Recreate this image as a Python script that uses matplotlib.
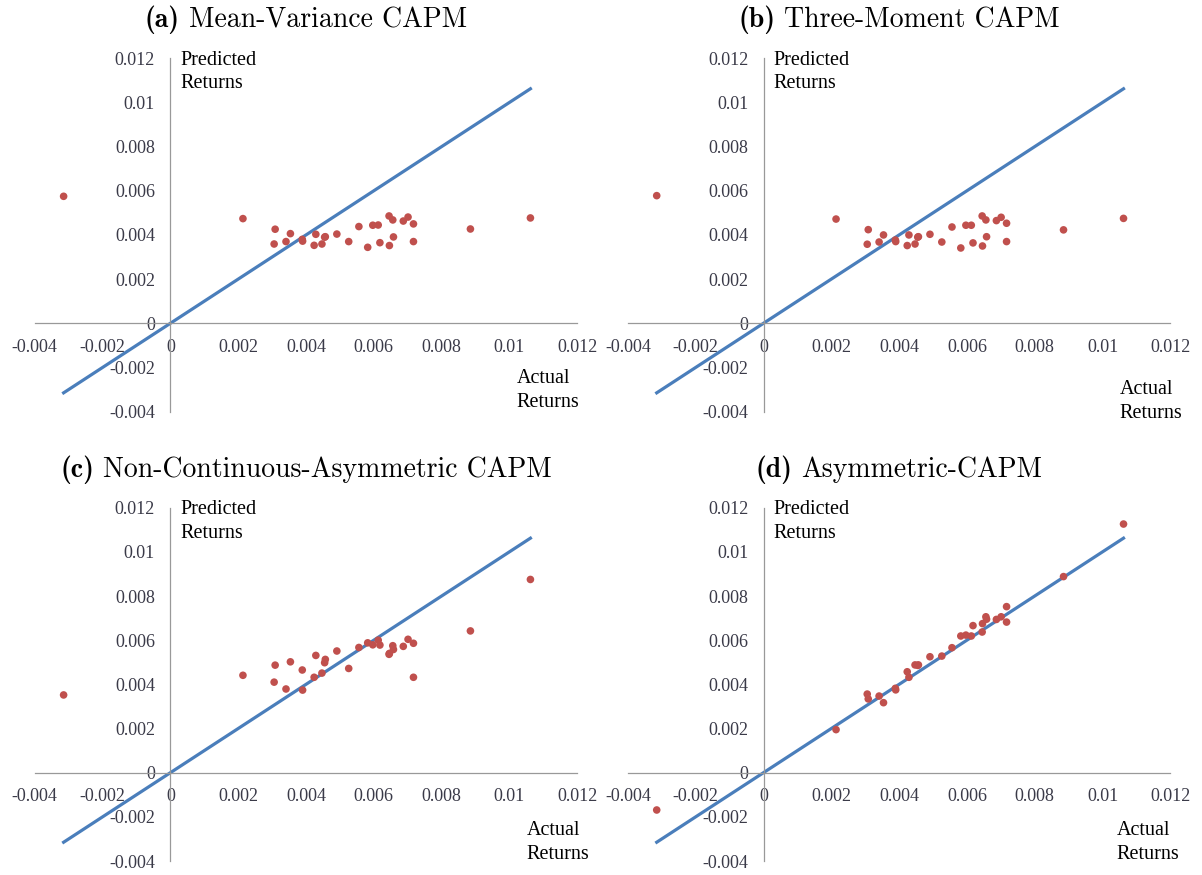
import matplotlib.pyplot as plt

## actual returns (shared x values for all four panels)
actual = [-0.00315, 0.00214, 0.00309, 0.00306, 0.00341, 0.00354, 0.00389, 0.00390,
          0.00429, 0.00424, 0.00447, 0.00457, 0.00455, 0.00491, 0.00526, 0.00556,
          0.00582, 0.00597, 0.00613, 0.00618, 0.00645, 0.00646, 0.00656, 0.00658,
          0.00687, 0.00701, 0.00717, 0.00717, 0.00885, 0.01062]

## predicted returns per model
pred_mv = [0.00575, 0.00474, 0.00426, 0.00359, 0.00370, 0.00406, 0.00380, 0.00372,
           0.00403, 0.00353, 0.00359, 0.00392, 0.00390, 0.00404, 0.00370, 0.00438,
           0.00344, 0.00444, 0.00445, 0.00365, 0.00486, 0.00352, 0.00468, 0.00391,
           0.00463, 0.00481, 0.00450, 0.00370, 0.00427, 0.00477]
pred_3m = [0.00578, 0.00472, 0.00424, 0.00358, 0.00368, 0.00400, 0.00377, 0.00370,
           0.00400, 0.00352, 0.00359, 0.00392, 0.00390, 0.00403, 0.00368, 0.00436,
           0.00341, 0.00444, 0.00444, 0.00364, 0.00486, 0.00350, 0.00468, 0.00392,
           0.00465, 0.00480, 0.00453, 0.00370, 0.00423, 0.00475]
pred_nca = [0.00352, 0.00441, 0.00487, 0.00410, 0.00379, 0.00502, 0.00465, 0.00374,
            0.00531, 0.00432, 0.00451, 0.00513, 0.00498, 0.00551, 0.00472, 0.00567,
            0.00588, 0.00579, 0.00600, 0.00578, 0.00536, 0.00540, 0.00575, 0.00558,
            0.00572, 0.00604, 0.00586, 0.00432, 0.00642, 0.00875]
pred_acapm = [-0.00169, 0.00195, 0.00334, 0.00356, 0.00347, 0.00317, 0.00382, 0.00375,
              0.00432, 0.00457, 0.00488, 0.00488, 0.00486, 0.00525, 0.00528, 0.00566,
              0.00619, 0.00623, 0.00619, 0.00666, 0.00637, 0.00675, 0.00706, 0.00695,
              0.00694, 0.00706, 0.00752, 0.00682, 0.00888, 0.01126]

tags = ['(a)', '(b)', '(c)', '(d)']
titles = ['Mean-Variance CAPM', 'Three-Moment CAPM',
          'Non-Continuous-Asymmetric CAPM', 'Asymmetric-CAPM']
ticks = [-0.004, -0.002, 0, 0.002, 0.004, 0.006, 0.008, 0.010, 0.012]
tick_labels = ['-0.004', '-0.002', '0', '0.002', '0.004', '0.006', '0.008', '0.01', '0.012']

plt.rcParams['font.family'] = 'Liberation Serif'

W, H = 1202, 875
fig = plt.figure(figsize=(W / 100, H / 100), dpi=100)

## axes boxes in pixels: left, top (width/height shared)
boxes = [(34.8, 58.3), (627.9, 58.3), (34.8, 507.7), (627.9, 507.7)]
aw, ah = 542.4, 353.3
## where "Actual Returns" sits in each panel (axes fraction)
actual_pos = [(0.888, 0.120), (0.907, 0.089), (0.907, 0.113), (0.901, 0.113)]
preds = [pred_mv, pred_3m, pred_nca, pred_acapm]

lo, hi = min(actual), max(actual)
heads = []
for i in range(4):
    l, t = boxes[i]
    ax = fig.add_axes([l / W, (H - t - ah) / H, aw / W, ah / H])
    ax.set_xlim(-0.004, 0.012)
    ax.set_ylim(-0.004, 0.012)
    for s in ['top', 'right']:
        ax.spines[s].set_visible(False)
    for s in ['left', 'bottom']:
        ax.spines[s].set_position(('data', 0))
        ax.spines[s].set_color('#999999')
        ax.spines[s].set_linewidth(0.9)
    ax.set_xticks(ticks)
    ax.set_xticklabels(tick_labels)
    ax.set_yticks(ticks)
    ax.set_yticklabels(tick_labels)
    ax.tick_params(length=0, pad=11, labelsize=13, labelcolor='#3a3a48')
    ## 45 degree line and the model points
    ax.plot([lo, hi], [lo, hi], color='#4a7ebb', lw=2.3, zorder=2, clip_on=False)
    ax.scatter(actual, preds[i], s=30, color='#c0504d', edgecolors='none', zorder=3, clip_on=False)
    ## title: bold tag followed by roman name, same baseline
    tg = ax.text(0.5, 1.088, tags[i], transform=ax.transAxes, ha='left',
                 va='baseline', fontsize=20, family='cmb10')
    nm = ax.text(0.5, 1.088, titles[i], transform=ax.transAxes, ha='left',
                 va='baseline', fontsize=20, family='cmr10')
    heads.append((ax, tg, nm))
    ax.text(0.269, 1.022, 'Predicted\nReturns', transform=ax.transAxes,
            ha='left', va='top', fontsize=14.5, linespacing=1.35)
    ax.text(actual_pos[i][0], actual_pos[i][1], 'Actual\nReturns', transform=ax.transAxes,
            ha='left', va='top', fontsize=14.5, linespacing=1.35)

## centre each title over its panel
r = fig.canvas.get_renderer()
gap = 9
for ax, tg, nm in heads:
    w1 = tg.get_window_extent(r).width
    w2 = nm.get_window_extent(r).width
    ab = ax.get_window_extent(r)
    x0 = (ab.x0 + ab.x1) / 2 - (w1 + gap + w2) / 2
    tg.set_x((x0 - ab.x0) / ab.width)
    nm.set_x((x0 + w1 + gap - ab.x0) / ab.width)

fig.savefig('out.png', dpi=100)
